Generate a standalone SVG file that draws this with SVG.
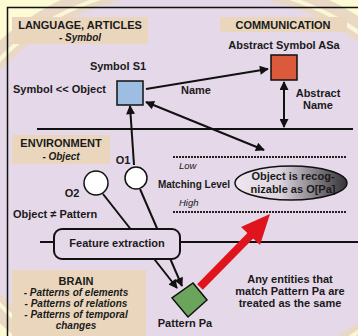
<svg xmlns="http://www.w3.org/2000/svg" width="358" height="336" viewBox="0 0 358 336">
<defs>
<style>
text{font-family:"Liberation Sans",Arial,sans-serif;fill:#1a1a1a;}
.b{font-weight:bold;font-size:11px;}
.bi{font-weight:bold;font-style:italic;font-size:10px;}
.i{font-style:italic;font-size:9.5px;}
.lbl{fill:#e9d6bd;}
.ln{stroke:#111;stroke-width:2;fill:none;}
.dot{stroke:#222;stroke-width:2;stroke-dasharray:2 1;fill:none;}
</style>
<marker id="ah" viewBox="0 0 10 10" refX="9" refY="5" markerWidth="10" markerHeight="9" markerUnits="userSpaceOnUse" orient="auto-start-reverse">
<path d="M0,0 L10,5 L0,10 z" fill="#111"/>
</marker>
<linearGradient id="eg" x1="0" y1="0" x2="1" y2="0">
<stop offset="0" stop-color="#efe8f0"/>
<stop offset="0.4" stop-color="#ddd4df"/>
<stop offset="1" stop-color="#353337"/>
</linearGradient>
</defs>
<g id="background">
<rect x="0" y="0" width="358" height="336" fill="#fdfbd3"/>
<ellipse cx="195" cy="182" rx="262" ry="212" fill="#e9d9c4"/>
<ellipse cx="195" cy="182" rx="250" ry="201" fill="#fbf6d6"/>
<ellipse cx="195" cy="182" rx="246" ry="197" fill="#e9d9c4"/>
<ellipse cx="195" cy="182" rx="240" ry="191" fill="#e5d8e9"/>
<rect x="7.5" y="7.5" width="360" height="340" fill="none" stroke="#111" stroke-width="1.5"/>
<line class="ln" x1="37" y1="129" x2="353" y2="129"/>
<line class="ln" x1="40" y1="242" x2="358" y2="242"/>
<line class="dot" x1="173" y1="157" x2="347" y2="157"/>
<line class="dot" x1="173" y1="212" x2="347" y2="212"/>
</g>
<g id="connectors">
<line class="ln" x1="146" y1="89" x2="268" y2="69" marker-end="url(#ah)"/>
<line class="ln" x1="284" y1="82" x2="284" y2="127" marker-start="url(#ah)" marker-end="url(#ah)"/>
<line class="ln" x1="146" y1="102" x2="264" y2="150" marker-start="url(#ah)" marker-end="url(#ah)"/>
<line class="ln" x1="134" y1="165" x2="130" y2="106" marker-end="url(#ah)"/>
<line class="ln" x1="103" y1="194" x2="177" y2="288" marker-end="url(#ah)"/>
<line class="ln" x1="140" y1="189" x2="182" y2="286" marker-end="url(#ah)"/>
<g id="red-arrow">
<line x1="200" y1="287" x2="255" y2="231" stroke="#e0141d" stroke-width="8"/>
<polygon points="270,214 241,227 260,245" fill="#e0141d"/>
</g>
</g>
<g id="language">
<rect class="lbl" x="12" y="17" width="136" height="27"/>
<text class="b" x="80" y="29" text-anchor="middle">LANGUAGE, ARTICLES</text>
<text class="bi" x="80" y="41" text-anchor="middle">- Symbol</text>
</g>
<g id="communication">
<rect class="lbl" x="220" y="17" width="127" height="15"/>
<text class="b" x="283" y="29" text-anchor="middle">COMMUNICATION</text>
</g>
<g id="abstract-symbol">
<text class="b" x="284" y="49" text-anchor="middle">Abstract Symbol ASa</text>
<rect x="271" y="55" width="26" height="25" fill="#dc5a3c" stroke="#111" stroke-width="1.5"/>
<text class="b" x="318" y="97" text-anchor="middle">Abstract</text>
<text class="b" x="318" y="109" text-anchor="middle">Name</text>
</g>
<g id="symbol-s1">
<text class="b" x="118" y="70" text-anchor="middle">Symbol S1</text>
<text class="b" x="13" y="93">Symbol &lt;&lt; Object</text>
<rect x="117" y="81" width="26" height="24" fill="#9dbde2" stroke="#111" stroke-width="1.5"/>
<text class="b" x="196" y="94" text-anchor="middle">Name</text>
</g>
<g id="environment">
<rect class="lbl" x="12" y="135" width="98" height="29"/>
<text class="b" x="61" y="147" text-anchor="middle">ENVIRONMENT</text>
<text class="bi" x="61" y="160" text-anchor="middle">- Object</text>
</g>
<g id="o1">
<text class="b" x="123" y="164" text-anchor="middle">O1</text>
<circle cx="136" cy="178" r="11" fill="#fff" stroke="#111" stroke-width="1.5"/>
</g>
<g id="o2">
<circle cx="96" cy="183" r="12" fill="#fff" stroke="#111" stroke-width="1.5"/>
<text class="b" x="72" y="197" text-anchor="middle">O2</text>
<text class="b" x="13" y="218">Object ≠ Pattern</text>
</g>
<g id="matching">
<text class="i" x="179" y="169">Low</text>
<text class="b" x="194" y="188" text-anchor="middle" style="font-size:10px">Matching Level</text>
<text class="i" x="179" y="206">High</text>
</g>
<g id="recognizable">
<ellipse cx="291" cy="183" rx="56" ry="17" fill="url(#eg)" stroke="#111" stroke-width="1.5"/>
<text class="b" x="293" y="180" text-anchor="middle">Object is recog-</text>
<text class="b" x="293" y="193" text-anchor="middle">nizable as O[Pa]</text>
</g>
<g id="feature-extraction">
<rect x="54" y="229" width="126" height="30" rx="8" fill="#e5d8e9" stroke="#111" stroke-width="2"/>
<text class="b" x="117" y="247" text-anchor="middle">Feature extraction</text>
</g>
<g id="brain">
<rect class="lbl" x="12" y="270" width="134" height="66"/>
<text class="b" x="76" y="285" text-anchor="middle">BRAIN</text>
<text class="bi" x="76" y="296" text-anchor="middle">- Patterns of elements</text>
<text class="bi" x="76" y="307" text-anchor="middle">- Patterns of relations</text>
<text class="bi" x="76" y="318" text-anchor="middle">- Patterns of temporal</text>
<text class="bi" x="76" y="329" text-anchor="middle">changes</text>
</g>
<g id="pattern-pa">
<polygon points="193,283 207,300 188,317 172,298" fill="#6ba55c" stroke="#111" stroke-width="1.5"/>
<text class="b" x="185" y="327" text-anchor="middle">Pattern Pa</text>
</g>
<g id="note">
<text class="b" x="290" y="283" text-anchor="middle">Any entities that</text>
<text class="b" x="290" y="295" text-anchor="middle">match Pattern Pa are</text>
<text class="b" x="290" y="307" text-anchor="middle">treated as the same</text>
</g>
</svg>
